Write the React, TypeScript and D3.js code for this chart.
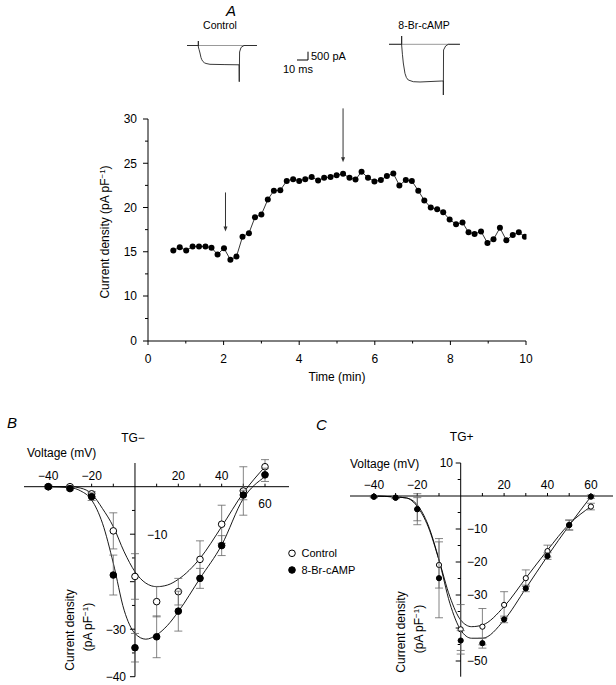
import React from 'react';
import * as d3 from 'd3';

// ---------- Panel A data ----------
const timeMin = [0.67,0.84,1.01,1.18,1.35,1.52,1.68,1.84,2.01,2.18,2.34,2.50,2.67,2.83,3.00,3.17,3.33,3.50,3.67,3.84,4.00,4.16,4.33,4.50,4.66,4.83,4.99,5.16,5.33,5.49,5.65,5.82,5.99,6.16,6.32,6.49,6.65,6.82,6.98,7.15,7.31,7.48,7.65,7.81,7.98,8.15,8.32,8.48,8.64,8.81,8.98,9.14,9.31,9.48,9.65,9.81,9.97];
const densityA = [15.15,15.5,15.15,15.6,15.6,15.6,15.45,14.7,15.4,14.1,14.45,16.7,17.1,18.9,19.2,20.9,21.9,21.95,23.0,23.2,23.0,23.2,23.45,23.05,23.35,23.45,23.65,23.8,23.35,23.15,24.05,23.35,22.95,23.1,23.55,23.85,22.5,23.1,23.0,21.9,20.8,20.0,19.8,19.45,18.65,18.1,18.3,17.2,17.0,17.3,16.0,16.4,17.7,16.3,16.9,17.2,16.7];
const arrowTime = [2.05, 5.16];
const arrowTop = [21.7, 31.2];
const arrowTip = [17.3, 25.1];
const yTicksA = [0, 10, 15, 20, 25, 30];
const yMinorA = [5, 12.5, 17.5, 22.5, 27.5];
const xTicksA = [0, 2, 4, 6, 8, 10];
const xMinorA = [1, 3, 5, 7, 9];

// current traces (ms, pA)
const traceCtrlMs = [0,10.3,10.3,10.3,11.0,11.8,12.7,13.5,14.5,15.8,17.3,20.9,34.5,47.3,47.5,47.8,49.1,51.8,63.6];
const traceCtrlPA = [0,0,271,-90,-250,-452,-723,-860,-964,-1040,-1084,-1133,-1151,-1163,-2181,-392,-120,0,0];
const traceCampMs = [0,11.5,11.5,11.5,12.2,13.0,14.5,15.8,17.5,22.1,28.2,47.9,49.4,49.4,49.6,51.5,53.9,64.5];
const traceCampPA = [0,0,500,-42,-600,-1127,-1747,-2000,-2151,-2253,-2271,-2211,-2211,-3054,-343,-102,0,0];
const traceLen = [63.6, 64.5];

// ---------- Panels B/C data ----------
const voltages = [-40,-30,-20,-10,0,10,20,30,40,50,60];
const bControl = [0,0,-1.5,-9.3,-18.9,-24.2,-22.1,-15.3,-7.9,-0.9,4.2];
const bControlSem = [0.3,0.3,0.5,3.8,4.8,3.2,2.8,3.9,4.0,5.1,1.5];
const bCamp = [0,-0.4,-2.1,-18.6,-33.9,-31.6,-26.2,-19.3,-12.4,-1.75,2.5];
const bCampSem = [0.3,0.3,0.8,4.2,3.0,4.4,4.2,2.1,2.1,1.0,1.4];
const bFitV = [-40,-30,-25,-20,-15,-10,-5,0,5,10,15,20,30,40,50,60];
const bFitControl = [0,0,-0.3,-1.5,-4.6,-8.4,-13.7,-17.9,-20.3,-21.05,-20.7,-19.5,-15.1,-8.4,-1.3,4.2];
const bFitCamp = [0,-0.2,-0.9,-2.8,-7.7,-16.1,-26.0,-30.9,-32.1,-31.2,-29.2,-26.3,-19.3,-12.3,-2.5,2.1];

const cControl = [-0.2,-0.5,-4.0,-20.9,-40.4,-39.6,-33.0,-24.9,-16.7,-8.8,-3.2];
const cControlSem = [0.3,0.3,4.7,7,7.5,5.5,4,2.5,1.8,1.5,1];
const cCamp = [-0.2,-0.5,-4.0,-24.9,-43.8,-44.6,-37.4,-28.0,-18.2,-8.8,-0.2];
const cCampSem = [0.3,0.3,3.5,12,3,1.5,1,1,1,1.5,0.5];
const cFitV = [-40,-30,-25,-20,-15,-10,-5,0,5,10,20,30,40,50,60];
const cFitControl = [0,-0.3,-0.6,-3.2,-9.3,-19.4,-30.5,-37.6,-39.6,-39.1,-33.5,-24.9,-16.4,-8.5,-3.2];
const cFitCamp = [0,-0.3,-0.6,-2.7,-8.8,-19.4,-32.5,-40.6,-43.1,-43.1,-37.6,-28,-18.2,-8.9,-0.2];

const xLabelsIV = [-40,-20,20,40];
const xTicksIV = [-40,-30,-20,-10,10,20,30,40,50,60];

const FONT = "'Liberation Sans', Arial, Helvetica, sans-serif";
const fmt = (v: number) => (v < 0 ? '\u2212' + Math.abs(v) : String(v));

function ErrorPoints({ xs, ys, sem, x, y, filled, r }: any) {
  return (
    <g>
      {xs.map((v: number, i: number) => {
        const cx = x(v);
        const y1 = y(ys[i] + sem[i]);
        const y2 = y(ys[i] - sem[i]);
        return (
          <g key={i} stroke="#666" strokeWidth={0.8}>
            <line x1={cx} x2={cx} y1={y1} y2={y2} />
            <line x1={cx - 4} x2={cx + 4} y1={y1} y2={y1} />
            <line x1={cx - 4} x2={cx + 4} y1={y2} y2={y2} />
          </g>
        );
      })}
      {xs.map((v: number, i: number) => (
        <circle key={'c' + i} cx={x(v)} cy={y(ys[i])} r={r}
          fill={filled ? '#000' : '#fff'} stroke="#000" strokeWidth={1} />
      ))}
    </g>
  );
}

function CurrentLabel({ x1, x2, cy }: any) {
  return (
    <g fontFamily={FONT} fontSize={12} fill="#000">
      <text transform={`translate(${x1},${cy}) rotate(-90)`} textAnchor="middle">Current density</text>
      <text transform={`translate(${x2},${cy - 3}) rotate(-90)`} textAnchor="middle">
        (pA pF<tspan dy={-4} fontSize={8}>{'\u22121'}</tspan><tspan dy={4}>)</tspan>
      </text>
    </g>
  );
}

export default function App() {
  // Panel A scales (y axis is broken: 0-10 compressed)
  const xA = d3.scaleLinear().domain([0, 10]).range([148, 526]);
  const yA = d3.scaleLinear().domain([0, 10, 30]).range([341, 296, 119]);
  const lineA = d3.line<number>().x((d, i) => xA(timeMin[i])).y((d) => yA(d));

  // traces
  const xT1 = d3.scaleLinear().domain([0, 10]).range([187, 198]);
  const yT1 = d3.scaleLinear().domain([0, -500]).range([45.5, 53.8]);
  const xT2 = d3.scaleLinear().domain([0, 10]).range([389, 400]);
  const yT2 = d3.scaleLinear().domain([0, -500]).range([44.3, 52.6]);
  const tr1 = d3.line<number>().x((d) => xT1(d)).y((d, i) => yT1(traceCtrlPA[i]))(traceCtrlMs) || '';
  const tr2 = d3.line<number>().x((d) => xT2(d)).y((d, i) => yT2(traceCampPA[i]))(traceCampMs) || '';

  // Panel B scales
  const xB = d3.scaleLinear().domain([-40, 60]).range([48.3, 265]);
  const yB = d3.scaleLinear().domain([0, -40]).range([486.7, 676.7]);
  // Panel C scales
  const xC = d3.scaleLinear().domain([-40, 60]).range([373.9, 590.9]);
  const yC = d3.scaleLinear().domain([10, -50]).range([463, 661]);

  const fit = (x: any, y: any, vs: number[], is: number[]) =>
    d3.line<number>().x((d) => x(d)).y((d, i) => y(is[i])).curve(d3.curveMonotoneX)(vs) || '';

  return (
    <svg width={616} height={685} style={{ position: 'absolute', left: 0, top: 0, background: '#fff' }}
      fontFamily={FONT}>
      <defs>
        <clipPath id="clipA"><rect x={140} y={100} width={386.5} height={250} /></clipPath>
      </defs>
      {/* ----- Panel A ----- */}
      <text x={226} y={16} fontSize={15} fontStyle="italic">A</text>
      <text x={220} y={28.5} fontSize={10.5} textAnchor="middle">Control</text>
      <text x={424} y={28.5} fontSize={10.5} textAnchor="middle">8-Br-cAMP</text>
      <line x1={xT1(0)} x2={xT1(traceLen[0])} y1={yT1(0)} y2={yT1(0)} stroke="#999" strokeWidth={1} />
      <line x1={xT2(0)} x2={xT2(traceLen[1])} y1={yT2(0)} y2={yT2(0)} stroke="#999" strokeWidth={1} />
      <path d={tr1} fill="none" stroke="#222" strokeWidth={0.9} />
      <path d={tr2} fill="none" stroke="#222" strokeWidth={0.9} />
      {/* scale bar */}
      <line x1={297} x2={308} y1={60} y2={60} stroke="#000" strokeWidth={1} />
      <line x1={308} x2={308} y1={51.7} y2={60} stroke="#000" strokeWidth={1} />
      <text x={311} y={60} fontSize={11}>500 pA</text>
      <text x={283} y={73} fontSize={11}>10 ms</text>

      {/* axes A */}
      <g stroke="#000" strokeWidth={1}>
        <line x1={xA(0)} x2={xA(0)} y1={yA(0)} y2={yA(30)} />
        <line x1={xA(0)} x2={xA(10)} y1={yA(0)} y2={yA(0)} />
        {yTicksA.map((t) => <line key={t} x1={xA(0) - 5} x2={xA(0)} y1={yA(t)} y2={yA(t)} />)}
        {yMinorA.map((t) => <line key={t} x1={xA(0) - 3} x2={xA(0)} y1={yA(t)} y2={yA(t)} />)}
        {xTicksA.map((t) => <line key={t} x1={xA(t)} x2={xA(t)} y1={yA(0)} y2={yA(0) + 4} />)}
        {xMinorA.map((t) => <line key={t} x1={xA(t)} x2={xA(t)} y1={yA(0)} y2={yA(0) + 2.5} />)}
      </g>
      <g fontSize={12}>
        {yTicksA.map((t) => <text key={t} x={137} y={yA(t) + 4.3} textAnchor="end">{t}</text>)}
        {xTicksA.map((t) => <text key={t} x={xA(t)} y={363} textAnchor="middle">{t}</text>)}
        <text x={337} y={381} textAnchor="middle">Time (min)</text>
        <text transform="translate(109,232) rotate(-90)" textAnchor="middle">
          Current density (pA pF<tspan dy={-4} fontSize={8}>{'\u22121'}</tspan><tspan dy={4}>)</tspan>
        </text>
      </g>
      <g clipPath="url(#clipA)">
        <path d={lineA(densityA) || ''} fill="none" stroke="#000" strokeWidth={0.8} />
        {densityA.map((d, i) => <circle key={i} cx={xA(timeMin[i])} cy={yA(d)} r={3} fill="#000" />)}
      </g>
      {arrowTime.map((t, i) => {
        const x = xA(t);
        const y1 = yA(arrowTop[i]);
        const y2 = yA(arrowTip[i]);
        return (
          <g key={i}>
            <line x1={x} x2={x} y1={y1} y2={y2 - 4} stroke="#333" strokeWidth={1} />
            <path d={`M${x - 2},${y2 - 5} L${x + 2},${y2 - 5} L${x},${y2} Z`} fill="#333" />
          </g>
        );
      })}

      {/* ----- Panel B ----- */}
      <text x={7} y={428} fontSize={15} fontStyle="italic">B</text>
      <text x={133} y={442} fontSize={12} textAnchor="middle">TG{'\u2212'}</text>
      <text x={27} y={457} fontSize={12}>Voltage (mV)</text>
      <g stroke="#000" strokeWidth={1}>
        <line x1={24} x2={289} y1={yB(0)} y2={yB(0)} />
        <line x1={xB(0)} x2={xB(0)} y1={463} y2={yB(-40)} />
        {xTicksIV.map((t) => <line key={t} x1={xB(t)} x2={xB(t)} y1={yB(0)} y2={yB(0) - 3} />)}
        {[-5,-10,-15,-20,-25,-30,-35,-40].map((t) => (
          <line key={t} x1={xB(0) - (t % 10 === 0 ? 5 : 3)} x2={xB(0)} y1={yB(t)} y2={yB(t)} />
        ))}
      </g>
      <g fontSize={12}>
        {xLabelsIV.map((t) => <text key={t} x={xB(t)} y={480} textAnchor="middle">{fmt(t)}</text>)}
        <text x={xB(60)} y={508} textAnchor="middle">60</text>
        <text x={147} y={yB(-10) + 4.3}>{fmt(-10)}</text>
        <text x={126} y={yB(-30) + 4.3} textAnchor="end">{fmt(-30)}</text>
        <text x={126} y={yB(-40) + 4.3} textAnchor="end">{fmt(-40)}</text>
      </g>
      <CurrentLabel x1={74} x2={92} cy={630} />
      <path d={fit(xB, yB, bFitV, bFitControl)} fill="none" stroke="#000" strokeWidth={0.9} />
      <path d={fit(xB, yB, bFitV, bFitCamp)} fill="none" stroke="#000" strokeWidth={0.9} />
      <ErrorPoints xs={voltages} ys={bControl} sem={bControlSem} x={xB} y={yB} filled={false} r={3.3} />
      <ErrorPoints xs={voltages} ys={bCamp} sem={bCampSem} x={xB} y={yB} filled={true} r={3.3} />

      {/* legend */}
      <circle cx={292} cy={553.3} r={3.3} fill="#fff" stroke="#000" strokeWidth={1} />
      <circle cx={292} cy={570} r={3.3} fill="#000" stroke="#000" strokeWidth={1} />
      <text x={301.5} y={557} fontSize={11}>Control</text>
      <text x={301.5} y={574} fontSize={11}>8-Br-cAMP</text>

      {/* ----- Panel C ----- */}
      <text x={316} y={430} fontSize={15} fontStyle="italic">C</text>
      <text x={461.7} y={440.7} fontSize={12} textAnchor="middle">TG+</text>
      <text x={350} y={468} fontSize={12}>Voltage (mV)</text>
      <g stroke="#000" strokeWidth={1}>
        <line x1={350} x2={613} y1={yC(0)} y2={yC(0)} />
        <line x1={xC(0)} x2={xC(0)} y1={yC(10)} y2={676.7} />
        {xTicksIV.map((t) => <line key={t} x1={xC(t)} x2={xC(t)} y1={yC(0)} y2={yC(0) - 3} />)}
        {[10,5,-5,-10,-15,-20,-25,-30,-35,-40,-45,-50].map((t) => (
          <line key={t} x1={xC(0) - (t % 10 === 0 ? 5 : 3)} x2={xC(0)} y1={yC(t)} y2={yC(t)} />
        ))}
      </g>
      <g fontSize={12}>
        {xLabelsIV.map((t) => <text key={t} x={xC(t)} y={488.5} textAnchor="middle">{fmt(t)}</text>)}
        <text x={xC(60)} y={488.5} textAnchor="middle">60</text>
        <text x={453} y={yC(10) + 4.3} textAnchor="end">10</text>
        {[-10,-20,-30,-50].map((t) => <text key={t} x={467} y={yC(t) + 4.3}>{fmt(t)}</text>)}
      </g>
      <CurrentLabel x1={405} x2={423} cy={632} />
      <path d={fit(xC, yC, cFitV, cFitControl)} fill="none" stroke="#000" strokeWidth={0.9} />
      <path d={fit(xC, yC, cFitV, cFitCamp)} fill="none" stroke="#000" strokeWidth={0.9} />
      <ErrorPoints xs={voltages} ys={cControl} sem={cControlSem} x={xC} y={yC} filled={false} r={2.6} />
      <ErrorPoints xs={voltages} ys={cCamp} sem={cCampSem} x={xC} y={yC} filled={true} r={2.6} />
    </svg>
  );
}
